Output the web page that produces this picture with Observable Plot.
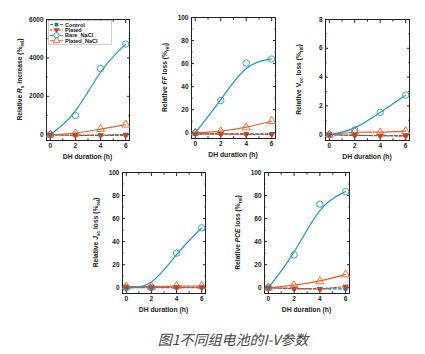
<!DOCTYPE html>
<html><head><meta charset="utf-8">
<script src="https://cdn.jsdelivr.net/npm/d3@7"></script>
<script src="https://cdn.jsdelivr.net/npm/@observablehq/plot@0.6"></script>
<style>
body{margin:0;background:#fff;}
#wrap{position:relative;width:425px;height:354px;overflow:hidden;background:#fff;}
.pan{position:absolute;}
#caption{position:absolute;left:0;width:466px;top:329px;text-align:center;font:italic 14px "Noto Sans CJK SC",sans-serif;color:#444;}
</style></head><body><div id="wrap"></div>
<script>
const hours = [0, 2, 4, 6];
const seriesNames = ["Control", "Plated", "Bare_NaCl", "Plated_NaCl"];
const xTicks = [0, 2, 4, 6];
const xMinor = [1, 3, 5];

// Relative Rs increase (%rel)
const rsControl = [0, -40, -40, -30];
const rsPlated = [0, -20, -20, 10];
const rsBare = [0, 1000, 3450, 4720];
const rsPlatedNaCl = [0, 60, 300, 520];
// Relative FF loss
const ffControl = [-1, -1, -1, -1];
const ffPlated = [-1, -1, -1.5, -1.5];
const ffBare = [0, 28, 60.5, 64];
const ffPlatedNaCl = [0, 1, 4.5, 10];
// Relative Voc loss
const vocControl = [0, -0.05, -0.05, -0.05];
const vocPlated = [0, -0.03, -0.08, -0.1];
const vocBare = [0, 0.33, 1.55, 2.75];
const vocPlatedNaCl = [0, 0.22, 0.15, 0.25];
// Relative Jsc loss
const jscControl = [0, 0, 0, 0];
const jscPlated = [0.5, 0.5, 0.5, 0.5];
const jscBare = [0, 0, 30, 52];
const jscPlatedNaCl = [1, 1, 1.5, 1.5];
// Relative PCE loss
const pceControl = [0, -1, -1, -1];
const pcePlated = [0, -0.5, -1, 1];
const pceBare = [0, 28.5, 72.5, 83.5];
const pcePlatedNaCl = [0, 2, 5.5, 11.5];

const colors = ["#1c7f9c", "#c8401e", "#2398bb", "#e8602a"];
const FONT = "'Liberation Sans', Arial, sans-serif";
const wrap = document.getElementById("wrap");
const fmt = d => String(d);

function yLabel(svg, x, y, parts) {
  const t = d3.select(svg).append("text")
    .attr("transform", `translate(${x},${y}) rotate(-90)`)
    .attr("text-anchor", "middle")
    .attr("font-family", FONT).attr("font-weight", "bold").attr("font-size", 6.7).attr("fill", "#222");
  let shifted = 0;
  for (const p of parts) {
    const s = t.append("tspan").text(p.t);
    if (p.i) s.attr("font-style", "italic");
    const want = p.sub ? 1.6 : 0;
    if (want !== shifted) { s.attr("dy", want - shifted); shifted = want; }
    if (p.sub) s.attr("font-size", 4.7);
  }
}

function panel(cfg) {
  const rows = [];
  cfg.values.forEach((arr, i) => arr.forEach((v, j) => rows.push({series: seriesNames[i], h: hours[j], v})));
  const sel = s => rows.filter(d => d.series === s);
  const W = 46 + cfg.fw + 11, H = 19 + 121 + 25;
  const yMinor = cfg.yTicks.slice(0, -1).map((t, i) => (t + cfg.yTicks[i + 1]) / 2);
  const blank = () => "";
  const svg = Plot.plot({
    width: W, height: H, marginLeft: 46, marginRight: 11, marginTop: 19, marginBottom: 25,
    style: {fontFamily: FONT, fontSize: "6.5px", fontWeight: "bold", color: "#222", background: "transparent", overflow: "visible"},
    x: {domain: [-0.3, 6.3]},
    y: {domain: cfg.yDomain},
    marks: [
      Plot.axisX({ticks: xTicks, tickSize: -3, tickPadding: 6, tickFormat: fmt, label: null}),
      Plot.axisX({anchor: "top", ticks: xTicks, tickSize: -3, tickFormat: blank, label: null}),
      Plot.axisX({ticks: xMinor, tickSize: -1.6, tickFormat: blank, label: null}),
      Plot.axisX({anchor: "top", ticks: xMinor, tickSize: -1.6, tickFormat: blank, label: null}),
      Plot.axisY({ticks: cfg.yTicks, tickSize: -3, tickPadding: 6, tickFormat: fmt, label: null}),
      Plot.axisY({anchor: "right", ticks: cfg.yTicks, tickSize: -3, tickFormat: blank, label: null}),
      Plot.axisY({ticks: yMinor, tickSize: -1.6, tickFormat: blank, label: null}),
      Plot.axisY({anchor: "right", ticks: yMinor, tickSize: -1.6, tickFormat: blank, label: null}),
      Plot.frame({stroke: "#222", strokeWidth: 1}),
      Plot.line(sel("Control"), {x: "h", y: "v", stroke: colors[0], strokeWidth: 1.1, strokeDasharray: "3,2"}),
      Plot.line(sel("Plated"), {x: "h", y: "v", stroke: colors[1], strokeWidth: 1.1, strokeDasharray: "2.5,1.6"}),
      Plot.line(sel("Plated_NaCl"), {x: "h", y: "v", stroke: colors[3], strokeWidth: 1.2, curve: "basis"}),
      Plot.line(sel("Bare_NaCl"), {x: "h", y: "v", stroke: colors[2], strokeWidth: 1.2, curve: "basis"}),
      Plot.dot(sel("Plated_NaCl"), {x: "h", y: "v", symbol: "triangle", r: 3, stroke: colors[3], strokeWidth: 0.9, fill: "none"}),
      Plot.dot(sel("Bare_NaCl"), {x: "h", y: "v", symbol: "circle", r: 3.2, stroke: colors[2], strokeWidth: 0.9, fill: "none"}),
      Plot.dot(sel("Control"), {x: "h", y: "v", symbol: "square", r: 2.2, fill: colors[0], stroke: "none"}),
      Plot.dot(sel("Plated"), {x: "h", y: "v", symbol: "triangle", rotate: 180, r: 2.4, fill: colors[1], stroke: "none"})
    ]
  });
  const div = document.createElement("div");
  div.className = "pan";
  div.style.left = cfg.left + "px";
  div.style.top = cfg.top + "px";
  div.appendChild(svg);
  wrap.appendChild(div);
  yLabel(svg, 22, 19 + 60.5, cfg.ylab);
  d3.select(svg).append("text").attr("x", 46 + cfg.fw / 2).attr("y", 19 + 121 + 18.5)
    .attr("text-anchor", "middle").attr("font-family", FONT).attr("font-weight", "bold")
    .attr("font-size", 6.8).attr("fill", "#222").text("DH duration (h)");
  return svg;
}

const p1 = panel({left: 0, top: 0, fw: 83, yDomain: [-300, 6000], yTicks: [0, 2000, 4000, 6000],
  values: [rsControl, rsPlated, rsBare, rsPlatedNaCl],
  ylab: [{t: "Relative "}, {t: "R", i: true}, {t: "s", sub: true}, {t: " increase (%"}, {t: "rel", sub: true}, {t: ")"}]});
panel({left: 145, top: -2, fw: 84, yDomain: [-5, 100], yTicks: [0, 20, 40, 60, 80, 100],
  values: [ffControl, ffPlated, ffBare, ffPlatedNaCl],
  ylab: [{t: "Relative "}, {t: "FF", i: true}, {t: " loss (%"}, {t: "rel", sub: true}, {t: ")"}]});
panel({left: 279, top: 0, fw: 84, yDomain: [-0.4, 8], yTicks: [0, 2, 4, 6, 8],
  values: [vocControl, vocPlated, vocBare, vocPlatedNaCl],
  ylab: [{t: "Relative V"}, {t: "oc", sub: true}, {t: " loss (%"}, {t: "rel", sub: true}, {t: ")"}]});
panel({left: 76, top: 153, fw: 83, yDomain: [-5, 100], yTicks: [0, 20, 40, 60, 80, 100],
  values: [jscControl, jscPlated, jscBare, jscPlatedNaCl],
  ylab: [{t: "Relative "}, {t: "J", i: true}, {t: "sc", sub: true}, {t: " loss (%"}, {t: "rel", sub: true}, {t: ")"}]});
panel({left: 218, top: 153, fw: 85, yDomain: [-5, 100], yTicks: [0, 20, 40, 60, 80, 100],
  values: [pceControl, pcePlated, pceBare, pcePlatedNaCl],
  ylab: [{t: "Relative "}, {t: "PCE", i: true}, {t: " loss (%"}, {t: "rel", sub: true}, {t: ")"}]});

// Legend inside panel 1
const lg = d3.select(p1).append("g").attr("font-family", FONT).attr("font-weight", "bold")
  .attr("font-size", 5.6).attr("fill", "#222").attr("text-anchor", "start");
lg.append("rect").attr("x", 48.5).attr("y", 20.5).attr("width", 63).attr("height", 24)
  .attr("fill", "#fff").attr("stroke", "#aaa").attr("stroke-width", 0.6);
const legendSym = [d3.symbolSquare, d3.symbolTriangle, d3.symbolCircle, d3.symbolTriangle];
const legendDash = ["3,2", "2.5,1.6", null, null];
seriesNames.forEach((s, i) => {
  const y = 24.6 + i * 5.4;
  const g = lg.append("g");
  const ln = g.append("line").attr("x1", 50).attr("x2", 63).attr("y1", y).attr("y2", y)
    .attr("stroke", colors[i]).attr("stroke-width", 1);
  if (legendDash[i]) ln.attr("stroke-dasharray", legendDash[i]);
  const filled = i < 2;
  const size = [14, 16, 22, 20][i];
  g.append("path").attr("d", d3.symbol(legendSym[i], size)())
    .attr("transform", `translate(56.5,${y})` + (i === 1 ? " rotate(180)" : ""))
    .attr("fill", filled ? colors[i] : "#fff").attr("stroke", filled ? "none" : colors[i]).attr("stroke-width", 0.9);
  g.append("text").attr("x", 65).attr("y", y).attr("dy", "0.35em").attr("text-anchor", "start").text(s);
});

const cap = document.createElement("div");
cap.id = "caption";
cap.textContent = "图1不同组电池的I-V参数";
wrap.appendChild(cap);
</script></body></html>
